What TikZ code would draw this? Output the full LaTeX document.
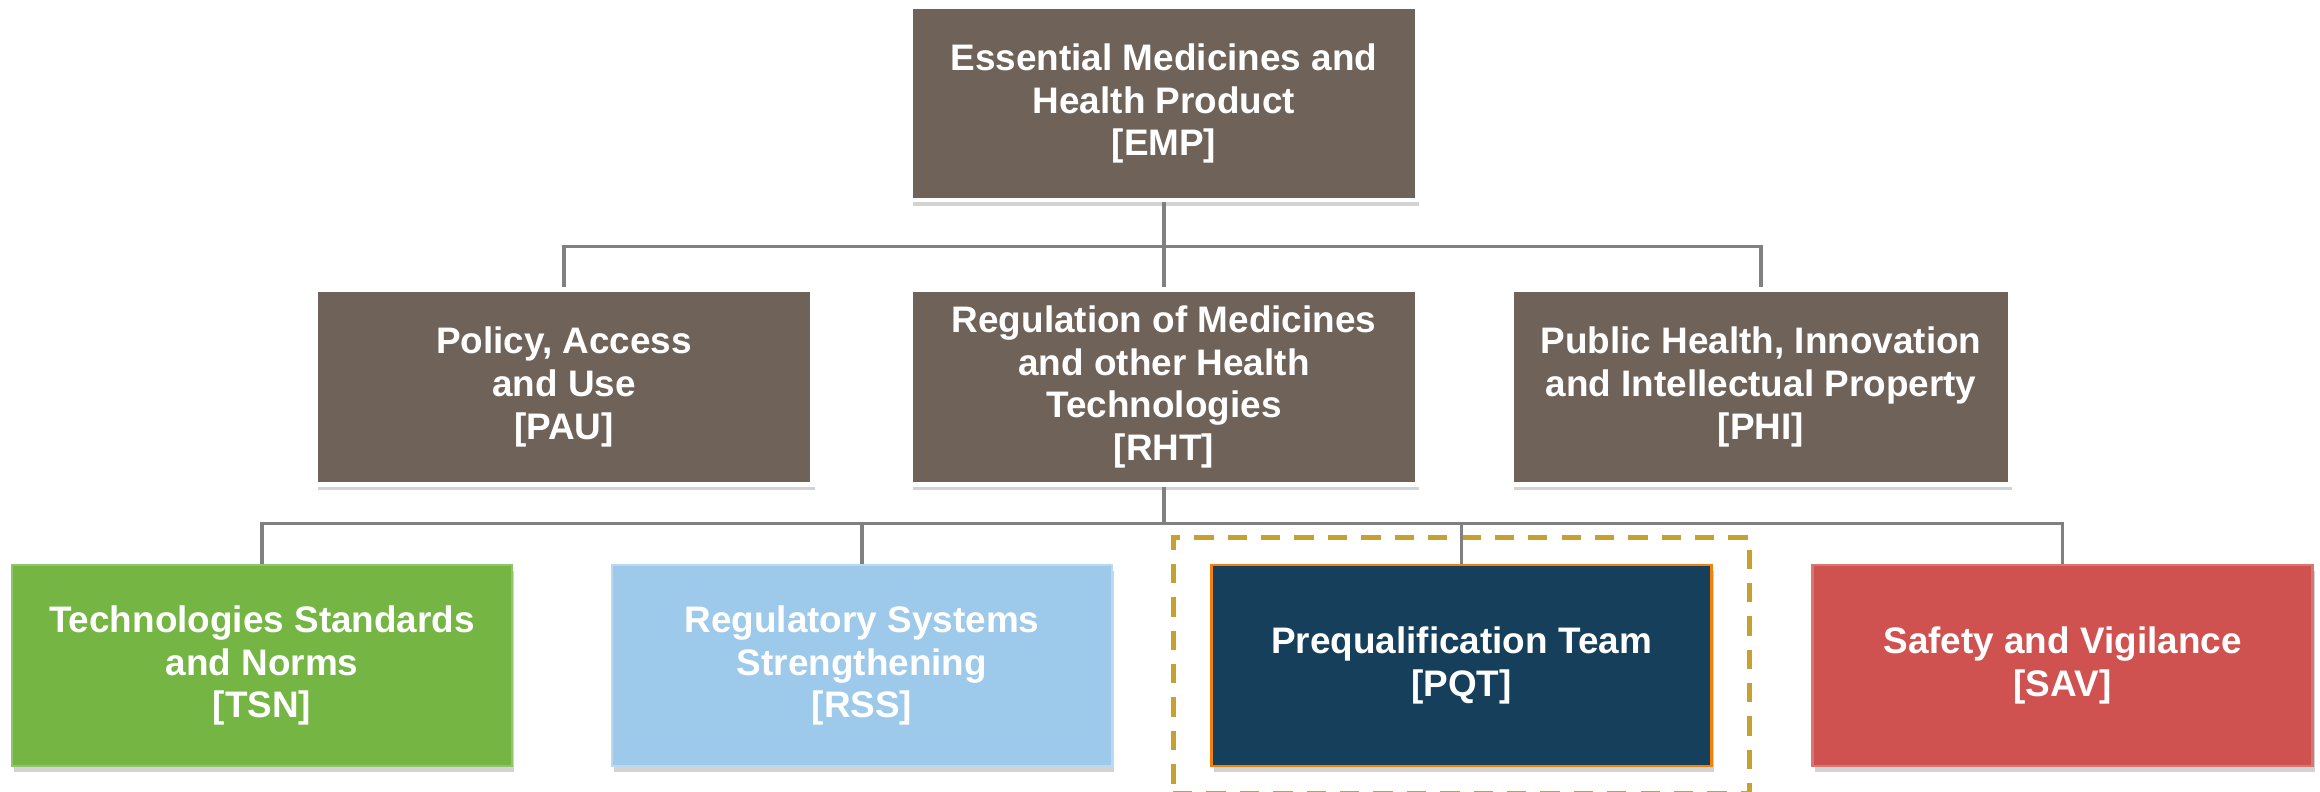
\documentclass[tikz,border=0pt]{standalone}
\usepackage{fontspec}
\setmainfont{Liberation Sans}
\usepackage{tikz}
\usetikzlibrary{positioning,shadows,fit}

\definecolor{unitbrown}{HTML}{6E6259}
\definecolor{tsngreen}{HTML}{74B544}
\definecolor{rssblue}{HTML}{9DC9EA}
\definecolor{pqtnavy}{HTML}{153F5A}
\definecolor{savred}{HTML}{CF5250}
\definecolor{focusgold}{HTML}{C7A12F}
\definecolor{linkgray}{HTML}{808080}

\begin{document}
\begin{tikzpicture}[node distance=6cm,on grid,
	unit/.style={rectangle,draw=white,line width=1.2pt,fill=unitbrown,text=white,align=center,
		font=\fontsize{10.5}{12.2}\selectfont\bfseries,inner sep=0pt,
		minimum width=5cm,minimum height=1.95cm,
		drop shadow={shadow xshift=0.6pt,shadow yshift=-1.6pt,opacity=0.35}},
	team/.style={unit,minimum height=2.01cm,line width=0.8pt},
	link/.style={draw=linkgray,line width=0.9pt},
	focus/.style={draw=focusgold,line width=1.4pt,dash pattern=on 5.5pt off 4pt,inner xsep=0.37cm,inner ysep=0.26cm}]
	\useasboundingbox (0,0) rectangle (23.2,7.92);

	\node[unit,minimum width=5.06cm,minimum height=1.93cm] (EMP) at (11.64,6.885) {Essential Medicines and\\Health Product\\{[EMP]}};
	\node[unit,minimum width=5.06cm] (RHT) [below=2.835 of EMP] {Regulation of Medicines\\and other Health\\Technologies\\{[RHT]}};
	\node[unit,minimum width=4.97cm] (PAU) [left=of RHT] {Policy, Access\\and Use\\{[PAU]}};
	\node[unit,minimum width=4.98cm] (PHI) [right=5.97 of RHT] {Public Health, Innovation\\and Intellectual Property\\{[PHI]}};

	\node[team,fill=rssblue,draw=rssblue!70!white] (RSS) [below left=2.785 and 3.02 of RHT] {Regulatory Systems\\Strengthening\\{[RSS]}};
	\node[team,fill=tsngreen,draw=tsngreen!80!white] (TSN) [left=of RSS] {Technologies Standards\\and Norms\\{[TSN]}};
	\node[team,fill=pqtnavy,draw=orange!80!brown] (PQT) [right=5.995 of RSS] {Prequalification Team\\{[PQT]}};
	\node[team,fill=savred,draw=savred!80!white] (SAV) [right=6.01 of PQT] {Safety and Vigilance\\{[SAV]}};

	\node[focus,fit=(PQT)] (PQTframe) {};

	\coordinate (bus1) at ([yshift=-0.44cm]EMP.south);
	\coordinate (bus2) at ([yshift=-0.37cm]RHT.south);
	\begin{scope}[on background layer/.try]
	\path[link] (EMP.south) -- (RHT.north);
	\path[link] (bus1) -| (PAU.north);
	\path[link] (bus1) -| (PHI.north);
	\path[link] (RHT.south) -- (bus2);
	\foreach \n in {TSN,RSS,PQT,SAV}
		\path[link] (bus2) -| (\n.north);
	\end{scope}
\end{tikzpicture}
\end{document}
